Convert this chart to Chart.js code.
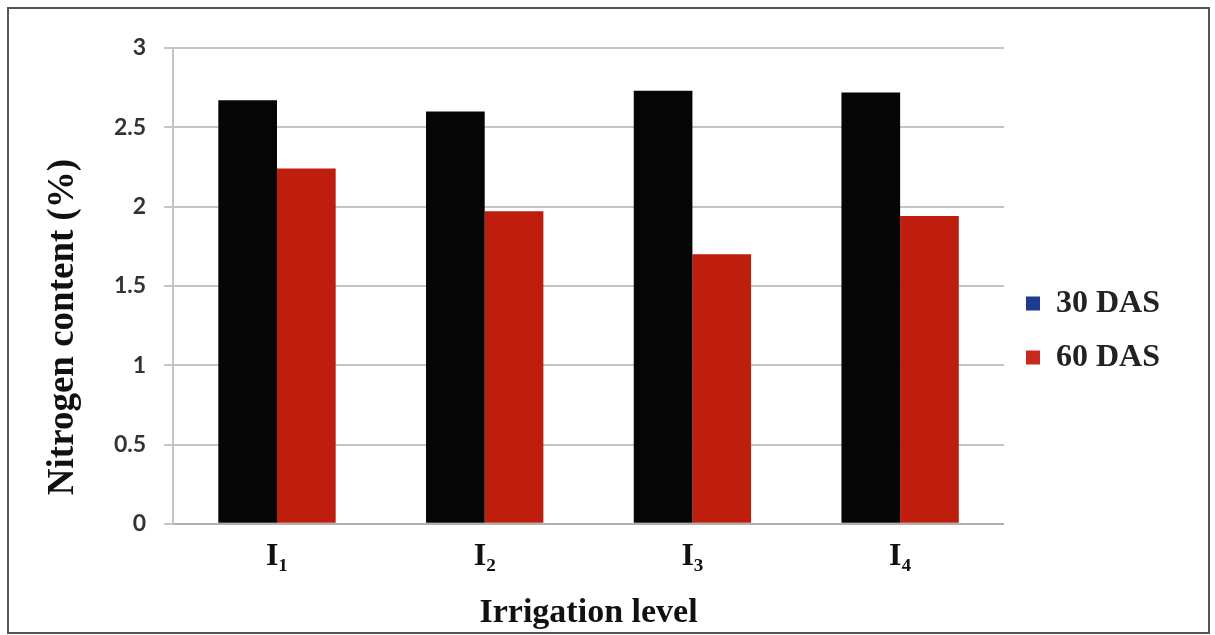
<!DOCTYPE html>
<html>
<head>
<meta charset="utf-8">
<script src="https://cdn.jsdelivr.net/npm/chart.js@4.4.1/dist/chart.umd.min.js"></script>
<style>
  html, body { margin: 0; padding: 0; background: #fff; }
  #wrap { position: relative; width: 1215px; height: 635px; }
  #frame { position: absolute; left: 7px; top: 7px; width: 1203px; height: 627px; border: 2px solid #555; box-sizing: border-box; pointer-events: none; }
</style>
</head>
<body>
<div id="wrap">
  <canvas id="c" width="1215" height="635"></canvas>
  <div id="frame"></div>
</div>
<script>
const categories = ['I\u2081', 'I\u2082', 'I\u2083', 'I\u2084'];
const seriesNames = ['30 DAS', '60 DAS'];
const das30 = [2.67, 2.60, 2.73, 2.72];
const das60 = [2.24, 1.97, 1.70, 1.94];
const yTicks = [0, 0.5, 1, 1.5, 2, 2.5, 3];
const yTickLabels = ['0', '0.5', '1', '1.5', '2', '2.5', '3'];
const xTitle = 'Irrigation level';
const yTitle = 'Nitrogen content (%)';

const barColors = ['#050505', '#bf1d0d'];
const legendColors = ['#1d3a8c', '#c8281e'];
const serif = '"Liberation Serif", "Times New Roman", serif';

const yTitlePlugin = {
  id: 'yTitlePlugin',
  afterDraw(chart) {
    const ctx = chart.ctx;
    ctx.save();
    ctx.translate(63, 327);
    ctx.rotate(-Math.PI / 2);
    ctx.font = 'bold 37px ' + serif;
    ctx.fillStyle = '#111';
    ctx.textAlign = 'center';
    ctx.textBaseline = 'middle';
    ctx.fillText(yTitle, 0, 0);
    ctx.restore();
  }
};

new Chart(document.getElementById('c'), {
  type: 'bar',
  data: {
    labels: categories,
    datasets: [
      { label: seriesNames[0], data: das30, backgroundColor: barColors[0], categoryPercentage: 0.565, barPercentage: 1.0 },
      { label: seriesNames[1], data: das60, backgroundColor: barColors[1], categoryPercentage: 0.565, barPercentage: 1.0 }
    ]
  },
  plugins: [yTitlePlugin],
  options: {
    responsive: false,
    animation: false,
    layout: { padding: { left: 96, top: 48, right: 45, bottom: 1 } },
    plugins: {
      tooltip: { enabled: false },
      legend: {
        position: 'right',
        align: 'center',
        fullSize: false,
        title: { display: true, text: ' ', padding: { top: 77, bottom: 0 }, font: { size: 10 } },
        labels: {
          boxWidth: 14,
          boxHeight: 14,
          padding: 22,
          color: '#222',
          font: { family: serif, size: 32, weight: 'bold' },
          generateLabels: (chart) => chart.data.datasets.map((ds, i) => ({
            text: ds.label,
            fillStyle: legendColors[i],
            strokeStyle: legendColors[i],
            lineWidth: 0,
            hidden: false,
            datasetIndex: i,
            fontColor: '#222'
          }))
        }
      }
    },
    scales: {
      x: {
        grid: { display: false, drawTicks: false },
        border: { display: true, color: '#b0b0b0', width: 2 },
        ticks: {
          color: '#111',
          padding: 14,
          font: { family: serif, size: 32, weight: 'bold' }
        },
        title: {
          display: true,
          text: xTitle,
          color: '#111',
          padding: { top: 3, bottom: 0 },
          font: { family: serif, size: 34, weight: 'bold' }
        }
      },
      y: {
        min: 0,
        max: 3,
        afterBuildTicks: (axis) => { axis.ticks = yTicks.map(v => ({ value: v })); },
        grid: { color: '#c4c4c4', lineWidth: 2, tickLength: 9, drawTicks: true },
        border: { display: true, color: '#c4c4c4', width: 2 },
        ticks: {
          color: '#333',
          padding: 18,
          callback: (v) => yTickLabels[yTicks.indexOf(v)],
          font: { family: 'Lato, "Open Sans", sans-serif', size: 23, weight: 'bold' }
        }
      }
    }
  }
});
</script>
</body>
</html>
